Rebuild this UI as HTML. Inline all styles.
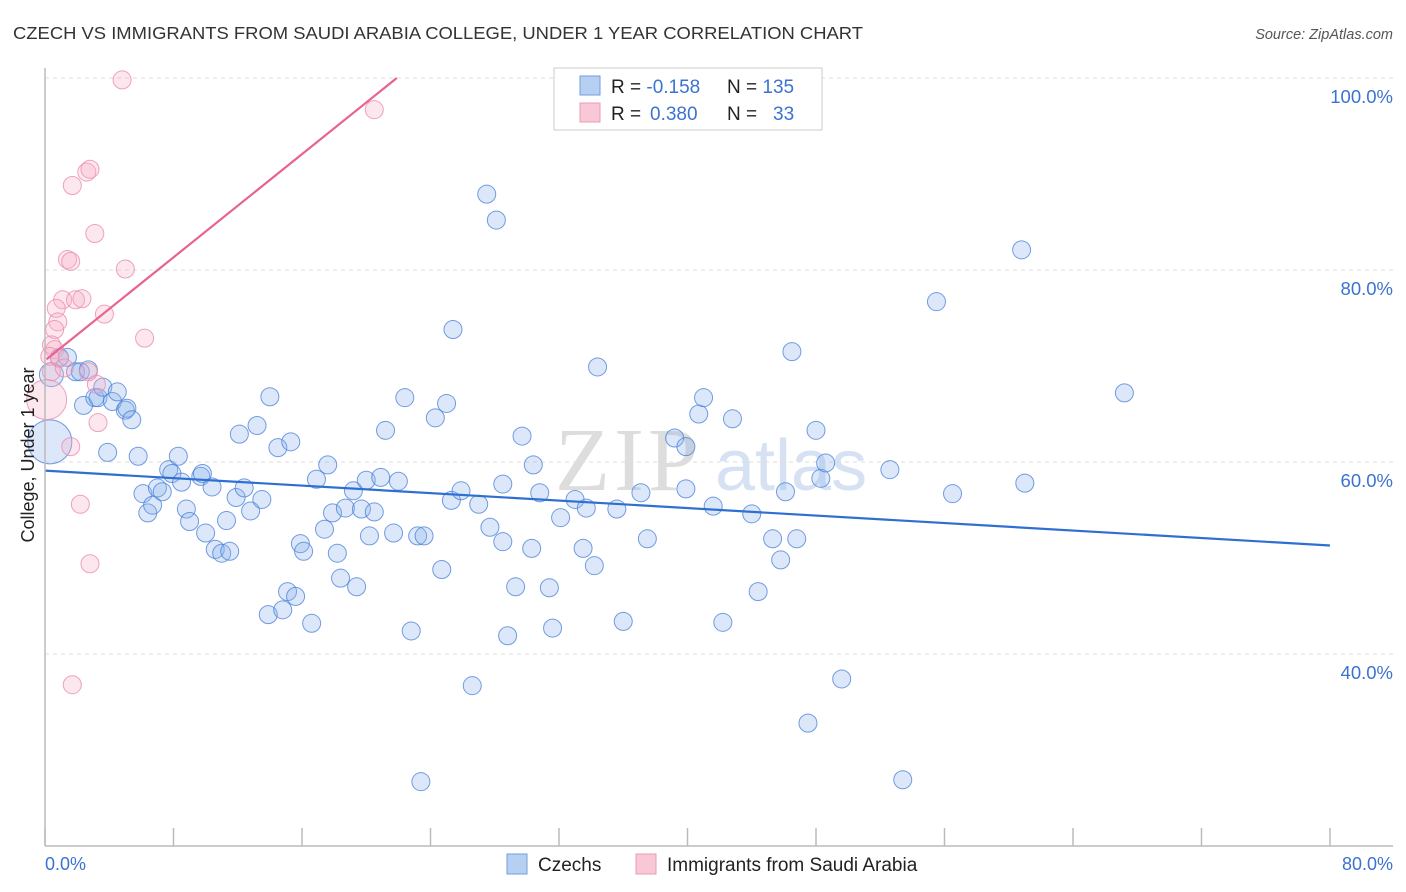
<!DOCTYPE html>
<html><head><meta charset="utf-8"><style>
body{margin:0;background:#fff;font-family:"Liberation Sans",sans-serif;}
svg{display:block}
</style></head><body>
<svg width="1406" height="892">
<text x="13" y="39" font-size="17.5" fill="#333" textLength="850" lengthAdjust="spacingAndGlyphs">CZECH VS IMMIGRANTS FROM SAUDI ARABIA COLLEGE, UNDER 1 YEAR CORRELATION CHART</text>
<text x="1393" y="39" font-size="14.5" fill="#555" font-style="italic" text-anchor="end">Source: ZipAtlas.com</text>
<g><text x="555" y="490" font-size="90" fill="#ddd" font-family="Liberation Serif" letter-spacing="4">ZIP</text><text x="715" y="490" font-size="72" fill="#d6e2f3">atlas</text></g>
<g id="grid"></g>
<g id="pts"></g>
<g id="lines"></g>
<line x1="45" y1="68" x2="45" y2="846" stroke="#bbb" stroke-width="1.5"/>
<line x1="45" y1="846" x2="1393" y2="846" stroke="#bbb" stroke-width="1.5"/>
<text transform="translate(34,455) rotate(-90)" font-size="18" fill="#222" text-anchor="middle">College, Under 1 year</text>
<text x="45" y="870" font-size="18" fill="#3b73d1">0.0%</text>
<text x="1393" y="870" font-size="18" fill="#3b73d1" text-anchor="end">80.0%</text>
<g>
<rect x="554" y="68" width="268" height="62" fill="#fff" stroke="#ccc"/>
<rect x="580" y="76" width="20" height="19" fill="#b7d0f2" stroke="#6f9ee0"/>
<rect x="580" y="103" width="20" height="19" fill="#f9c8d6" stroke="#eb9ab2"/>
<text x="611" y="93" font-size="19" fill="#222">R = <tspan fill="#3b73d1">-0.158</tspan><tspan x="727">N = </tspan><tspan fill="#3b73d1">135</tspan></text>
<text x="611" y="120" font-size="19" fill="#222">R = <tspan fill="#3b73d1" x="650">0.380</tspan><tspan x="727">N = </tspan><tspan fill="#3b73d1" x="773">33</tspan></text>
</g>
<g>
<rect x="507" y="854" width="20" height="20" fill="#b7d0f2" stroke="#6f9ee0"/>
<text x="538" y="871" font-size="19" fill="#222">Czechs</text>
<rect x="636" y="854" width="20" height="20" fill="#f9c8d6" stroke="#eb9ab2"/>
<text x="667" y="871" font-size="19" fill="#222">Immigrants from Saudi Arabia</text>
</g>
</svg>
<script>
const yTicks=[40,60,80,100];
const yTickLabels=["40.0%","60.0%","80.0%","100.0%"];
const xTicks=[0,8,16,24,32,40,48,56,64,72,80];
const czX=[0.3,0.4,0.9,1.4,1.9,2.2,2.7,2.4,3.1,3.3,3.6,4.2,4.5,5.0,5.1,5.4,3.9,5.8,6.1,6.4,6.7,7.0,7.3,7.7,7.9,8.3,8.5,8.8,9.0,9.7,9.8,10.0,10.4,10.6,11.0,11.5,11.3,11.9,12.1,12.4,12.8,13.2,13.5,13.9,14.0,14.5,14.8,15.1,15.3,15.6,15.9,16.1,16.6,16.9,17.4,17.6,17.9,18.2,18.4,18.7,19.2,19.4,19.7,20.0,20.2,20.5,20.9,21.2,21.7,22.0,22.4,22.8,23.2,23.6,24.3,24.7,25.0,25.4,25.3,25.9,26.6,27.0,27.5,27.7,28.1,28.5,28.5,28.8,29.3,29.7,30.4,30.3,30.8,31.4,31.6,32.1,33.0,33.5,33.7,34.2,34.4,35.6,36.0,37.1,37.5,39.2,39.9,39.9,40.7,41.0,41.6,42.2,42.8,44.0,44.4,45.3,45.8,46.1,46.5,46.8,47.5,48.0,48.3,48.6,49.6,52.6,53.4,55.5,56.5,60.8,61.0,67.2,23.4];
const czY=[62.1,69.1,70.9,70.9,69.4,69.4,69.6,65.9,66.7,66.7,67.8,66.3,67.3,65.4,65.6,64.4,61.0,60.6,56.7,54.7,55.5,57.3,56.9,59.2,58.8,60.6,57.9,55.1,53.8,58.5,58.8,52.6,57.4,50.9,50.5,50.7,53.9,56.3,62.9,57.3,54.9,63.8,56.1,44.1,66.8,61.5,44.6,46.5,62.1,46.0,51.5,50.7,43.2,58.2,53.0,59.7,54.7,50.5,47.9,55.2,57.0,47.0,55.1,58.1,52.3,54.8,58.4,63.3,52.6,58.0,66.7,42.4,52.3,52.3,64.6,48.8,66.1,73.8,56.0,57.0,36.7,55.6,87.9,53.2,85.2,51.7,57.7,41.9,47.0,62.7,59.7,51.0,56.8,46.9,42.7,54.2,56.1,51.0,55.2,49.2,69.9,55.1,43.4,56.8,52.0,62.5,61.6,57.2,65.0,66.7,55.4,43.3,64.5,54.6,46.5,52.0,49.8,56.9,71.5,52.0,32.8,63.3,58.3,59.9,37.4,59.2,26.9,76.7,56.7,82.1,57.8,67.2,26.7];
const czR=[22,12];
const saX=[4.8,20.5,1.7,2.6,2.8,3.1,1.4,1.6,5.0,1.1,1.9,2.3,0.7,0.8,0.6,0.4,0.6,0.3,0.4,0.9,1.2,6.2,3.7,3.2,3.3,1.6,2.2,2.8,1.7,0.1,2.7];
const saY=[99.8,96.7,88.8,90.2,90.5,83.8,81.1,80.9,80.1,76.9,76.9,77.0,76.0,74.6,73.8,72.2,71.7,71.0,69.4,70.8,69.8,72.9,75.4,68.1,64.1,61.6,55.6,49.4,36.8,66.5,69.4];
const czLine=[[0,59.1],[80,51.3]];
const saLine=[[0.1,70.7],[21.9,100]];
const NS="http://www.w3.org/2000/svg";
const xs=v=>45+v/80*1285;
const ys=v=>846-(v-20)/80*768;
function mk(t,a,p){const e=document.createElementNS(NS,t);for(const k in a)e.setAttribute(k,a[k]);p.appendChild(e);return e;}
const grid=document.getElementById('grid');
yTicks.forEach((v,i)=>{
 const l=mk('line',{x1:45,x2:1393,y1:ys(v),y2:ys(v),stroke:'#ddd','stroke-dasharray':'4,4'},grid);
 
 
 const t=mk('text',{x:1393,y:ys(v)+25,'font-size':18.5,fill:'#3b73d1','text-anchor':'end'},grid);
 t.textContent=yTickLabels[i];
 
 
});
xTicks.forEach(v=>{
 const l=mk('line',{x1:xs(v),x2:xs(v),y1:828,y2:846,stroke:'#bbb','stroke-width':1.5},grid);
 
 
});
const pts=document.getElementById('pts');
czX.forEach((x,i)=>{
 const c=mk('circle',{cx:xs(x),cy:ys(czY[i]),r:czR[i]||9,fill:'rgba(140,180,235,0.3)',stroke:'rgba(70,125,215,0.75)','stroke-width':1},pts);
 
 
});
saX.forEach((x,i)=>{
 const c=mk('circle',{cx:xs(x),cy:ys(saY[i]),r:i==29?20:9,fill:'rgba(248,175,200,0.3)',stroke:'rgba(235,140,175,0.8)','stroke-width':1},pts);
 
 
});
const lines=document.getElementById('lines');
const l1=mk('line',{x1:xs(czLine[0][0]),y1:ys(czLine[0][1]),x2:xs(czLine[1][0]),y2:ys(czLine[1][1]),stroke:'#2f6fd1','stroke-width':2.2},lines);


const l2=mk('line',{x1:xs(saLine[0][0]),y1:ys(saLine[0][1]),x2:xs(saLine[1][0]),y2:ys(saLine[1][1]),stroke:'#e8638f','stroke-width':2.2},lines);


</script>
</body></html>
